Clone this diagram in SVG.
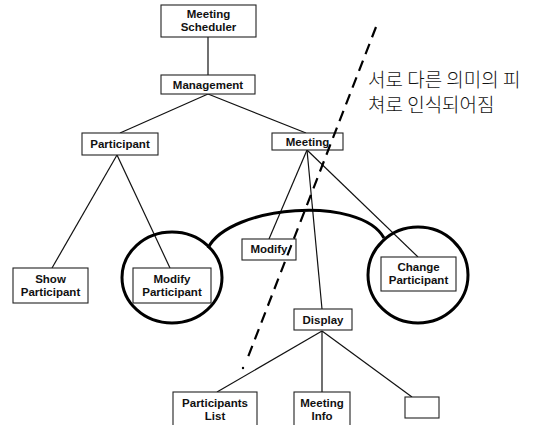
<svg xmlns="http://www.w3.org/2000/svg" width="542" height="425" viewBox="0 0 542 425">
  <style>
    .box { fill: #fff; stroke: #222; stroke-width: 1.1; }
    .lbl { font-family: "Liberation Sans", Arial, sans-serif; font-weight: bold; font-size: 11.5px; fill: #111; text-anchor: middle; }
    .edge { stroke: #111; stroke-width: 1.2; fill: none; }
    .group { stroke: #000; stroke-width: 3; fill: none; }
    .note { font-family: "Noto Sans CJK KR", "Noto Sans", sans-serif; font-weight: 300; font-size: 19px; fill: #111; }
  </style>
  <rect width="542" height="425" fill="#fff"/>

  <!-- tree connectors -->
  <g id="connectors">
    <line class="edge" x1="208" y1="37" x2="208" y2="75"/>
    <line class="edge" x1="208" y1="94" x2="120" y2="133"/>
    <line class="edge" x1="208" y1="94" x2="306" y2="133"/>
    <line class="edge" x1="117" y1="155" x2="52" y2="268"/>
    <line class="edge" x1="117" y1="155" x2="170" y2="268"/>
    <line class="edge" x1="307" y1="150" x2="269" y2="239"/>
    <line class="edge" x1="307" y1="150" x2="322" y2="309"/>
    <line class="edge" x1="307" y1="150" x2="418" y2="257"/>
    <line class="edge" x1="322" y1="331" x2="217" y2="392"/>
    <line class="edge" x1="322" y1="331" x2="322" y2="392"/>
    <line class="edge" x1="322" y1="331" x2="412" y2="397"/>
  </g>

  <!-- grouping: two circled nodes joined by an arc -->
  <g id="grouping">
    <ellipse class="group" cx="172" cy="277.5" rx="50" ry="45.5"/>
    <ellipse class="group" cx="418" cy="275" rx="50" ry="48"/>
    <path class="group" d="M 208 248 C 230 205, 360 195, 384 238"/>
  </g>

  <g id="n-scheduler">
    <rect class="box" x="161" y="5" width="95" height="32"/>
    <text class="lbl" x="208.5" y="18">Meeting</text>
    <text class="lbl" x="208.5" y="31">Scheduler</text>
  </g>
  <g id="n-management">
    <rect class="box" x="161" y="75" width="94" height="19"/>
    <text class="lbl" x="208" y="89">Management</text>
  </g>
  <g id="n-participant">
    <rect class="box" x="82" y="133" width="76" height="22"/>
    <text class="lbl" x="120" y="148">Participant</text>
  </g>
  <g id="n-meeting">
    <rect class="box" x="272" y="133" width="71" height="17"/>
    <text class="lbl" x="307.5" y="146">Meeting</text>
  </g>
  <g id="n-show-participant">
    <rect class="box" x="13" y="268" width="75" height="35"/>
    <text class="lbl" x="50.5" y="283">Show</text>
    <text class="lbl" x="50.5" y="296">Participant</text>
  </g>
  <g id="n-modify-participant">
    <rect class="box" x="133" y="268" width="78" height="35"/>
    <text class="lbl" x="172" y="283">Modify</text>
    <text class="lbl" x="172" y="296">Participant</text>
  </g>
  <g id="n-modify">
    <rect class="box" x="242" y="239" width="54" height="21"/>
    <text class="lbl" x="269" y="253">Modify</text>
  </g>
  <g id="n-change-participant">
    <rect class="box" x="381" y="257" width="75" height="34"/>
    <text class="lbl" x="418.5" y="271">Change</text>
    <text class="lbl" x="418.5" y="284">Participant</text>
  </g>
  <g id="n-display">
    <rect class="box" x="294" y="309" width="58" height="21"/>
    <text class="lbl" x="323" y="324">Display</text>
  </g>
  <g id="n-participants-list">
    <rect class="box" x="173" y="392" width="84" height="40"/>
    <text class="lbl" x="215" y="407">Participants</text>
    <text class="lbl" x="215" y="420">List</text>
  </g>
  <g id="n-meeting-info">
    <rect class="box" x="294" y="392" width="56" height="40"/>
    <text class="lbl" x="322" y="407">Meeting</text>
    <text class="lbl" x="322" y="420">Info</text>
  </g>
  <g id="n-empty">
    <rect class="box" x="405" y="397" width="34" height="21"/>
  </g>

  <!-- dashed boundary with its note -->
  <g id="boundary">
    <line x1="376" y1="27" x2="248" y2="357" stroke="#000" stroke-width="2.2" stroke-dasharray="11 7"/>
    <circle cx="243" cy="368" r="1.2" fill="#000"/>
    <text class="note" x="368" y="87">서로 다른 의미의 피</text>
    <text class="note" x="368" y="112">쳐로 인식되어짐</text>
  </g>
</svg>
